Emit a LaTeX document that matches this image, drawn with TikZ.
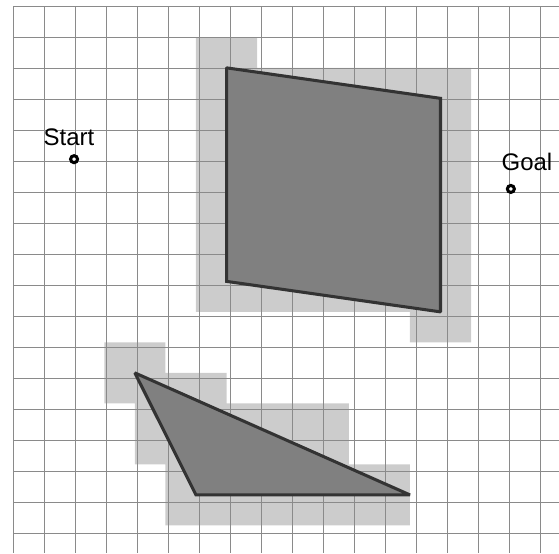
\documentclass[tikz,border=0pt]{standalone}
\usepackage{fontspec}
\setmainfont{Liberation Sans}
\usetikzlibrary{positioning}
\definecolor{gridgray}{HTML}{8A8A8A}
\definecolor{cspacegray}{HTML}{CCCCCC}
\definecolor{obstgray}{HTML}{808080}
\definecolor{obstedge}{HTML}{333333}
\tikzset{
  gridline/.style = {draw=gridgray, line width=0.45pt},
  grown/.style    = {fill=cspacegray},
  obstacle/.style = {fill=obstgray, draw=obstedge, line width=1.4pt,
                     line join=miter, miter limit=1.5},
  endpt/.style    = {circle, draw=black, fill=white, line width=1.4pt,
                     minimum size=3.2pt, inner sep=0pt},
  lbl/.style      = {anchor=base west, inner sep=0pt,
                     font=\fontsize{11}{13}\selectfont},
}

\begin{document}
\begin{tikzpicture}[x=0.5cm, y=-0.5cm]
  \useasboundingbox (-0.429,-0.194) rectangle (17.603,17.645);

  % grown obstacles (cells hit by an obstacle)
  \begin{scope}[shift={(-0.023,0.026)}, xscale=0.986, yscale=0.984]
    \fill[grown] (6,1) -- (8,1) -- (8,2) -- (15,2) -- (15,11) -- (13,11)
                 -- (13,10) -- (6,10) -- cycle;
    \fill[grown] (3,11) -- (5,11) -- (5,12) -- (7,12) -- (7,13) -- (11,13)
                 -- (11,15) -- (13,15) -- (13,17) -- (5,17) -- (5,15)
                 -- (4,15) -- (4,13) -- (3,13) -- cycle;
  \end{scope}

  % grid
  \foreach \i in {0,...,17} {
    \draw[gridline] (\i,0) -- (\i,17.645);
    \draw[gridline] (0,\i) -- (17.603,\i);
  }

  % obstacles
  \begin{scope}[shift={(-0.023,0.026)}, xscale=0.986, yscale=0.984]
    \draw[obstacle] (7,2) -- (14,3) -- (14,10) -- (7,9) -- cycle;
    \draw[obstacle] (4,12) -- (13,16) -- (6,16) -- cycle;
  \end{scope}

  % start and goal
  \node[endpt] (start) at (1.96,4.94) {};
  \node[endpt] (goal) at (16.05,5.90) {};
  \node[lbl] (startlbl) at (0.965,4.484) {Start};
  \node[lbl] (goallbl) at (15.74,5.31) {Goal};

\end{tikzpicture}
\end{document}
